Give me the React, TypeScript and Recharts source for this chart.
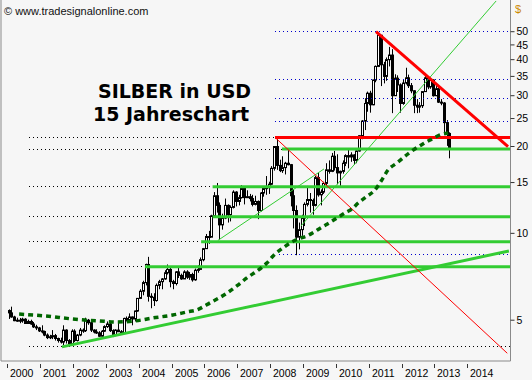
import { ComposedChart, Bar, Line, XAxis, YAxis, ReferenceLine } from "recharts";

const FONT = '"Liberation Sans", Arial, sans-serif';
const TITLE_FONT = '"DejaVu Sans", Verdana, sans-serif';

// monthly candles from Jan 2000 to Jun 2013
const startYear = 2000;
const opens = [
  5.40, 5.30, 5.13, 4.98, 5.00, 4.98, 5.04, 4.87, 4.95, 4.85, 4.74, 4.70,
  4.59, 4.57, 4.44, 4.35, 4.38, 4.42, 4.32, 4.25, 4.20, 4.62, 4.25, 4.14,
  4.58, 4.25, 4.44, 4.62, 4.60, 5.00, 4.90, 4.62, 4.55, 4.52, 4.40, 4.58,
  4.75, 4.85, 4.60, 4.43, 4.62, 4.56, 4.53, 5.07, 5.02, 5.13, 5.05, 5.38,
  5.95, 6.30, 6.75, 7.80, 6.05, 6.00, 5.85, 6.60, 6.80, 6.95, 7.30, 7.50,
  6.80, 6.70, 7.35, 7.15, 6.95, 7.35, 7.05, 7.20, 6.90, 7.45, 7.50, 8.10,
  8.85, 9.75, 9.70, 11.5, 13.5, 12.5, 10.7, 11.3, 12.5, 11.6, 12.3, 13.9,
  12.9, 13.3, 14.3, 13.3, 13.4, 13.2, 12.6, 12.9, 12.0, 13.8, 14.3, 14.4,
  14.8, 16.8, 20.0, 17.2, 16.5, 16.9, 17.5, 17.3, 13.5, 12.0, 9.7, 10.3,
  11.3, 12.6, 13.1, 13.0, 12.5, 15.6, 13.6, 13.9, 14.9, 16.6, 16.4, 18.5,
  16.9, 16.2, 16.4, 17.5, 18.6, 18.4, 18.7, 17.9, 19.3, 21.8, 24.5, 28.2,
  30.6, 27.9, 34.0, 37.9, 48.6, 38.4, 35.0, 40.0, 41.5, 30.0, 34.5, 32.7,
  28.2, 33.2, 34.6, 32.5, 31.2, 27.8, 27.4, 27.7, 31.0, 34.6, 32.2, 34.0,
  30.0, 31.7, 28.5, 28.3, 24.2, 22.2,
];
const highs = [
  5.45, 5.57, 5.18, 5.10, 5.09, 5.10, 5.08, 5.02, 5.02, 4.93, 4.82, 4.74,
  4.80, 4.60, 4.50, 4.45, 4.62, 4.48, 4.35, 4.35, 4.80, 4.65, 4.30, 4.65,
  4.65, 4.48, 4.70, 4.68, 5.10, 5.05, 4.95, 4.65, 4.65, 4.58, 4.62, 4.80,
  4.95, 4.90, 4.65, 4.65, 4.95, 4.62, 5.10, 5.15, 5.28, 5.15, 5.40, 5.97,
  6.40, 6.85, 7.85, 8.29, 6.20, 6.20, 6.70, 6.90, 7.00, 7.45, 7.80, 7.70,
  6.90, 7.40, 7.60, 7.25, 7.45, 7.45, 7.35, 7.30, 7.55, 7.75, 8.25, 8.90,
  9.95, 10.2, 11.6, 13.9, 14.95, 12.8, 11.7, 13.2, 12.6, 12.5, 14.1, 14.0,
  13.6, 14.7, 14.4, 14.1, 13.7, 13.6, 13.5, 13.0, 13.9, 14.5, 15.8, 15.1,
  17.1, 20.0, 21.3, 18.0, 18.5, 17.7, 19.5, 17.4, 14.2, 12.5, 10.9, 11.6,
  12.8, 14.6, 13.8, 13.2, 15.8, 16.2, 14.2, 15.1, 17.5, 17.9, 19.0, 19.3,
  18.8, 16.5, 17.9, 18.8, 19.5, 19.1, 18.8, 19.4, 21.9, 24.7, 29.4, 31.0,
  31.2, 34.1, 38.2, 49.8, 48.7, 39.3, 40.7, 44.3, 43.5, 35.6, 35.3, 33.1,
  34.1, 37.5, 35.5, 33.2, 31.3, 29.2, 28.5, 31.1, 35.4, 34.8, 34.6, 34.2,
  32.4, 32.4, 29.2, 28.5, 24.7, 22.4,
];
const lows = [
  5.05, 5.10, 4.96, 4.93, 4.88, 4.90, 4.86, 4.85, 4.82, 4.70, 4.62, 4.55,
  4.50, 4.40, 4.30, 4.30, 4.30, 4.25, 4.18, 4.15, 4.10, 4.15, 4.05, 4.12,
  4.20, 4.22, 4.40, 4.52, 4.55, 4.82, 4.55, 4.50, 4.48, 4.38, 4.38, 4.55,
  4.70, 4.55, 4.37, 4.40, 4.55, 4.50, 4.52, 4.95, 4.95, 4.80, 4.95, 5.35,
  5.92, 6.10, 6.60, 5.80, 5.50, 5.60, 5.80, 6.40, 6.40, 6.90, 7.20, 6.50,
  6.40, 6.60, 7.00, 6.90, 6.95, 6.95, 6.90, 6.80, 6.85, 7.30, 7.50, 8.00,
  8.85, 9.20, 9.70, 11.4, 11.8, 9.50, 10.3, 11.2, 10.9, 11.0, 12.2, 12.4,
  12.5, 13.2, 12.6, 13.3, 12.9, 12.4, 12.5, 11.2, 11.9, 13.4, 13.6, 13.7,
  14.7, 16.5, 16.6, 16.3, 16.2, 16.0, 17.2, 12.4, 10.4, 8.40, 8.80, 9.80,
  10.6, 12.4, 11.8, 11.6, 12.4, 13.4, 12.5, 13.7, 14.6, 16.1, 16.3, 16.5,
  14.8, 14.6, 16.1, 17.1, 16.8, 17.7, 17.3, 17.5, 19.2, 21.2, 22.8, 26.4,
  26.2, 27.8, 33.4, 37.7, 32.4, 33.1, 33.8, 37.9, 26.1, 30.1, 30.9, 26.2,
  27.9, 32.8, 31.9, 30.6, 26.1, 26.1, 26.2, 27.2, 30.9, 31.6, 31.7, 29.8,
  29.9, 28.3, 27.8, 22.0, 20.1, 18.2,
];
const closes = [
  5.30, 5.13, 4.98, 5.00, 4.98, 5.04, 4.87, 4.95, 4.85, 4.74, 4.70, 4.59,
  4.57, 4.44, 4.35, 4.38, 4.42, 4.32, 4.25, 4.20, 4.62, 4.25, 4.14, 4.58,
  4.25, 4.44, 4.62, 4.60, 5.00, 4.90, 4.62, 4.55, 4.52, 4.40, 4.58, 4.75,
  4.85, 4.60, 4.43, 4.62, 4.56, 4.53, 5.07, 5.02, 5.13, 5.05, 5.38, 5.95,
  6.30, 6.75, 7.80, 6.05, 6.00, 5.85, 6.60, 6.80, 6.95, 7.30, 7.50, 6.80,
  6.70, 7.35, 7.15, 6.95, 7.35, 7.05, 7.20, 6.90, 7.45, 7.50, 8.10, 8.85,
  9.75, 9.70, 11.5, 13.5, 12.5, 10.7, 11.3, 12.5, 11.6, 12.3, 13.9, 12.9,
  13.3, 14.3, 13.3, 13.4, 13.2, 12.6, 12.9, 12.0, 13.8, 14.3, 14.4, 14.8,
  16.8, 20.0, 17.2, 16.5, 16.9, 17.5, 17.3, 13.5, 12.0, 9.7, 10.3, 11.3,
  12.6, 13.1, 13.0, 12.5, 15.6, 13.6, 13.9, 14.9, 16.6, 16.4, 18.5, 16.9,
  16.2, 16.4, 17.5, 18.6, 18.4, 18.7, 17.9, 19.3, 21.8, 24.5, 28.2, 30.6,
  27.9, 34.0, 37.9, 48.6, 38.4, 35.0, 40.0, 41.5, 30.0, 34.5, 32.7, 28.2,
  33.2, 34.6, 32.5, 31.2, 27.8, 27.4, 27.7, 31.0, 34.6, 32.2, 34.0, 30.0,
  31.7, 28.5, 28.3, 24.2, 22.2, 19.7,
];

// dashed moving average
const maYears = [
  2000.36, 2001.18, 2001.97, 2002.79, 2003.34, 2003.89, 2004.43, 2005.04, 2005.47, 2005.77,
  2006.17, 2006.69, 2007.02, 2007.33, 2007.6, 2007.9, 2008.15, 2008.39, 2008.61, 2008.85,
  2009.13, 2009.34, 2009.58, 2009.79, 2010.04, 2010.28, 2010.49, 2010.68, 2010.92, 2011.19,
  2011.38, 2011.59, 2011.86, 2012.23, 2012.65, 2012.93, 2013.17, 2013.42,
];
const maValues = [
  5.25, 5.17, 5.05, 4.97, 4.93, 4.97, 5.09, 5.21, 5.34, 5.43,
  5.74, 6.21, 6.62, 7.06, 7.4, 7.89, 8.48, 8.9, 9.26, 9.56,
  9.8, 10.11, 10.52, 10.86, 11.31, 11.77, 12.15, 12.74, 13.37, 14.14,
  15.18, 16.58, 17.53, 18.99, 20.41, 21.24, 21.93, 22.28,
];

// horizontal support lines (green) with the year they start, dotted to the left
const greenLevels = [19.6, 14.5, 11.42, 9.35, 7.66];
const greenStarts = [2008.36, 2006.25, 2006.25, 2005.9, 2004.19];
const redLevel = 21.5;
const redStart = 2008.15;
const blueLevels = [50, 34.2, 29.4, 24.5, 8.42];
const blueStarts = [2008.15, 2008.15, 2008.15, 2008.15, 2008.27];
const bottomDotted = 4.05;
const dottedFrom = 2000.66;

// trend lines: [year1, price1, year2, price2]
const thickGreen = [2001.665, 4.04, 2015.27, 8.69];
const thinGreenA = [2006.41, 9.45, 2009.64, 16.72];
const thinGreenB = [2008.94, 10.6, 2014.88, 63.9];
const thickRed = [2011.224, 50, 2015.243, 20.0];
const thinRed = [2008.15, 21.5, 2015.22, 3.84];

const yearTicks = [2000, 2001, 2002, 2003, 2004, 2005, 2006, 2007, 2008, 2009, 2010, 2011, 2012, 2013, 2014];
const priceTicks = [5, 10, 15, 20, 25, 30, 35, 40, 45, 50];

const X_MIN = 1999.808;
const X_MAX = 2015.318;
const Y_MIN = 3.61;
const Y_MAX = 64.4;

const candles = closes.map((c, i) => ({
  t: startYear + (i + 0.5) / 12,
  o: opens[i],
  h: highs[i],
  l: lows[i],
  c,
  range: [lows[i], highs[i]],
}));
const maData = maYears.map((t, i) => ({ t, ma: maValues[i] }));

const Candle = (props: any) => {
  const { x, y, width, height, payload } = props;
  if (!payload || height == null) return null;
  const { o, h, l, c } = payload;
  const cx = Math.round(x + width / 2) + 0.5;
  const span = Math.log(h) - Math.log(l);
  const py = (v: number) => y + (span ? ((Math.log(h) - Math.log(v)) / span) * height : 0);
  const top = py(Math.max(o, c));
  const bot = py(Math.min(o, c));
  const up = c >= o;
  return (
    <g>
      <line x1={cx} x2={cx} y1={y} y2={y + height} stroke="#000" strokeWidth={1} />
      <rect x={cx - 1} y={top} width={2} height={Math.max(bot - top, 1)} fill={up ? "#fff" : "#000"} stroke="#000" strokeWidth={1} />
    </g>
  );
};

const YearTick = (props: any) => {
  const { x, y, payload } = props;
  const px = Math.round(x) + 0.5;
  return (
    <g>
      <line x1={px} x2={px} y1={y + 3} y2={y + 7} stroke="#333" />
      <text x={px + 2.5} y={y + 16} fontSize={10.5} fontFamily={FONT} fill="#000">
        {payload.value}
      </text>
    </g>
  );
};

const seg = (s: number[]) => [
  { x: s[0], y: s[1] },
  { x: s[2], y: s[3] },
];

export default function App() {
  return (
    <div style={{ position: "absolute", left: 0, top: 0, width: 532, height: 380, background: "#f6f6f6" }}>
      <ComposedChart width={532} height={380} data={candles} margin={{ top: 0, right: 0, left: 1, bottom: 0 }}>
        <XAxis
          type="number"
          dataKey="t"
          domain={[X_MIN, X_MAX]}
          allowDataOverflow
          ticks={yearTicks}
          interval={0}
          tick={<YearTick />}
          tickLine={false}
          tickSize={0}
          tickMargin={0}
          height={19}
          axisLine={{ stroke: "#8a8a8a" }}
        />
        <YAxis
          orientation="right"
          scale="log"
          domain={[Y_MIN, Y_MAX]}
          allowDataOverflow
          ticks={priceTicks}
          interval={0}
          width={21.5}
          tickSize={4}
          axisLine={{ stroke: "#8a8a8a" }}
          tickLine={{ stroke: "#333" }}
          tick={{ fontSize: 10.5, fontFamily: FONT, fill: "#000" }}
        />
        <ReferenceLine x={X_MIN} stroke="#8a8a8a" ifOverflow="visible" />

        <Bar dataKey="range" shape={<Candle />} barSize={3} isAnimationActive={false} />

        {greenLevels.map((v, i) => (
          <ReferenceLine key={"gd" + i} segment={seg([dottedFrom, v, greenStarts[i], v])} stroke="#000" strokeDasharray="1 3" shapeRendering="crispEdges" ifOverflow="visible" />
        ))}
        <ReferenceLine segment={seg([dottedFrom, redLevel, redStart, redLevel])} stroke="#000" strokeDasharray="1 3" shapeRendering="crispEdges" ifOverflow="visible" />
        <ReferenceLine segment={seg([dottedFrom, bottomDotted, X_MAX, bottomDotted])} stroke="#000" strokeDasharray="1 3" shapeRendering="crispEdges" ifOverflow="visible" />
        {blueLevels.map((v, i) => (
          <ReferenceLine key={"b" + i} segment={seg([blueStarts[i], v, X_MAX, v])} stroke="#0000cc" strokeDasharray="1 3" shapeRendering="crispEdges" ifOverflow="visible" />
        ))}
        {greenLevels.map((v, i) => (
          <ReferenceLine key={"g" + i} segment={seg([greenStarts[i], v, X_MAX, v])} stroke="#33cc33" strokeWidth={3} ifOverflow="visible" />
        ))}
        <ReferenceLine segment={seg(thickGreen)} stroke="#33cc33" strokeWidth={3} ifOverflow="visible" />
        <ReferenceLine segment={seg(thinGreenA)} stroke="#33cc33" strokeWidth={1} ifOverflow="visible" />
        <ReferenceLine segment={seg(thinGreenB)} stroke="#33cc33" strokeWidth={1} ifOverflow="visible" />
        <ReferenceLine segment={seg(thinRed)} stroke="#ff0000" strokeWidth={1} ifOverflow="visible" />
        <ReferenceLine segment={seg([redStart, redLevel, X_MAX, redLevel])} stroke="#ff0000" strokeWidth={3} ifOverflow="visible" />
        <ReferenceLine segment={seg(thickRed)} stroke="#ff0000" strokeWidth={3} ifOverflow="visible" />

        <Line
          data={maData}
          dataKey="ma"
          type="monotone"
          stroke="#006600"
          strokeWidth={3.5}
          strokeDasharray="5 4"
          dot={false}
          activeDot={false}
          isAnimationActive={false}
        />
      </ComposedChart>

      <div style={{ position: "absolute", left: 4, top: 6, fontFamily: FONT, fontSize: 11, lineHeight: "11px", color: "#111", whiteSpace: "nowrap" }}>
        © www.tradesignalonline.com
      </div>
      <div style={{ position: "absolute", left: 515, top: 4, fontFamily: FONT, fontSize: 11, lineHeight: "11px", color: "#cc8800" }}>
        $
      </div>
      <div style={{ position: "absolute", left: 98, top: 82, fontFamily: TITLE_FONT, fontWeight: "bold", fontSize: 19, lineHeight: "19px", color: "#000", whiteSpace: "nowrap" }}>
        SILBER in USD
      </div>
      <div style={{ position: "absolute", left: 93, top: 105, fontFamily: TITLE_FONT, fontWeight: "bold", fontSize: 19, lineHeight: "19px", color: "#000", whiteSpace: "nowrap" }}>
        15 Jahreschart
      </div>
    </div>
  );
}
